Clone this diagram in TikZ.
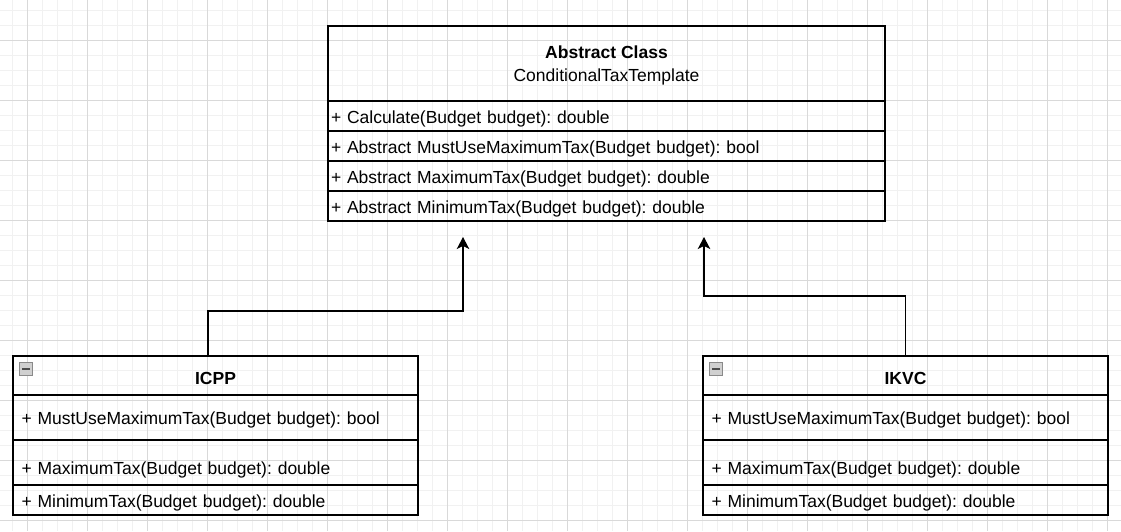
\documentclass[tikz,border=0pt]{standalone}
\usepackage{fontspec}
\setmainfont{Liberation Sans}
\usetikzlibrary{positioning,arrows.meta}
\definecolor{gridMinor}{HTML}{F1F1F1}
\definecolor{gridMajor}{HTML}{D9D9D9}
\definecolor{tglFill}{HTML}{D0D0D0}
\definecolor{tglLine}{HTML}{8A8A8A}
\frenchspacing

\begin{document}
\begin{tikzpicture}[
  x=1pt, y=-1pt,
  font=\fontsize{17.5}{23}\selectfont,
  box/.style={rectangle, draw, line width=1.3pt, outer sep=0pt},
  head/.style={box, align=center},
  row/.style={box, minimum height=30pt, inner ysep=2pt, text height=18pt, text depth=4pt, align=left},
  absrow/.style={row, inner xsep=3pt, text width=551pt},
  subrow/.style={row, inner xsep=8.5pt, text width=388pt},
  toggle/.style={rectangle, draw=tglLine, fill=tglFill, line width=0.8pt, minimum size=13pt, inner sep=0pt},
  tglbar/.style={line width=1.6pt, draw=black!70},
  gen/.style={line width=1.3pt, -{Stealth[length=12pt, width=12.5pt, inset=3pt]}}
]
% background grid
\fill[white] (0,0) rectangle (1121,531);
\useasboundingbox (0,0) rectangle (1121,531);
\foreach \x in {12,27,...,1120} \draw[gridMinor, line width=0.8pt] (\x,0) -- (\x,531);
\foreach \y in {10,25,...,530} \draw[gridMinor, line width=0.8pt] (0,\y) -- (1121,\y);
\foreach \x in {27,87,...,1120} \draw[gridMajor, line width=0.8pt] (\x,0) -- (\x,531);
\foreach \y in {40,100,...,530} \draw[gridMajor, line width=0.8pt] (0,\y) -- (1121,\y);

% abstract class
\node[head, minimum width=557pt, minimum height=75pt, anchor=north west] (absHead) at (328,26) {\rule{0pt}{17pt}\textbf{Abstract Class}\\ConditionalTaxTemplate};
\node[absrow, below=0pt of absHead] (absCalc) {+ Calculate(Budget budget): double};
\node[absrow, below=0pt of absCalc] (absMust) {+ Abstract MustUseMaximumTax(Budget budget): bool};
\node[absrow, below=0pt of absMust] (absMax) {+ Abstract MaximumTax(Budget budget): double};
\node[absrow, below=0pt of absMax] (absMin) {+ Abstract MinimumTax(Budget budget): double};

% ICPP
\node[head, minimum width=405pt, minimum height=39pt, text height=17.5pt, text depth=0pt, anchor=north west] (icppHead) at (13,356) {\textbf{ICPP}};
\node[subrow, minimum height=45pt, below=0pt of icppHead] (icppMust) {+ MustUseMaximumTax(Budget budget): bool};
\node[subrow, minimum height=45pt, text height=27pt, below=0pt of icppMust] (icppMax) {+ MaximumTax(Budget budget): double};
\node[subrow, below=0pt of icppMax] (icppMin) {+ MinimumTax(Budget budget): double};
\node[toggle, below right=6pt and 6pt of icppHead.north west] (icppTgl) {};
\draw[tglbar] ([xshift=3pt]icppTgl.west) -- ([xshift=-3pt]icppTgl.east);

% IKVC
\node[head, minimum width=405pt, minimum height=39pt, text height=17.5pt, text depth=0pt, anchor=north west] (ikvcHead) at (703,356) {\textbf{IKVC}};
\node[subrow, minimum height=45pt, below=0pt of ikvcHead] (ikvcMust) {+ MustUseMaximumTax(Budget budget): bool};
\node[subrow, minimum height=45pt, text height=27pt, below=0pt of ikvcMust] (ikvcMax) {+ MaximumTax(Budget budget): double};
\node[subrow, below=0pt of ikvcMax] (ikvcMin) {+ MinimumTax(Budget budget): double};
\node[toggle, below right=6pt and 6pt of ikvcHead.north west] (ikvcTgl) {};
\draw[tglbar] ([xshift=3pt]ikvcTgl.west) -- ([xshift=-3pt]ikvcTgl.east);

% generalisation
\coordinate (icppTip) at (463,237);
\coordinate (ikvcTip) at (704,237);
\draw[gen] ([xshift=-7.5pt]icppHead.north) -- ++(0,-45) -| (icppTip);
\draw[gen] (ikvcHead.north) -- ++(0,-60) -| (ikvcTip);
\end{tikzpicture}
\end{document}
